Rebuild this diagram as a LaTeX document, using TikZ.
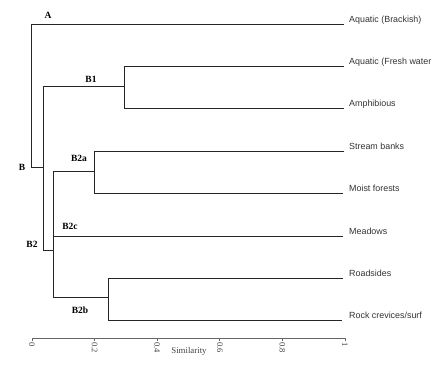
\documentclass[tikz,border=0pt]{standalone}
\usepackage{fontspec}
\setmainfont{Liberation Serif}
\newfontfamily\leaffont{Liberation Sans}
\begin{document}
\begin{tikzpicture}[x=1pt,y=-1pt,
  branch/.style={draw=black!85, line width=0.9pt},
  leaflbl/.style={anchor=base west, inner sep=0pt, font=\leaffont\fontsize{8.9}{10}\selectfont, text=black!80},
  clustlbl/.style={inner sep=0pt, font=\bfseries\fontsize{9.5}{11}\selectfont},
  ticklbl/.style={rotate=-90, anchor=west, inner sep=0pt, font=\fontsize{8.5}{10}\selectfont, text=black!75},
  axisline/.style={draw=black!60, line width=0.7pt}]
\useasboundingbox (0,0) rectangle (442,368);
% leaf ends
\coordinate (e1) at (344,24);
\coordinate (e2) at (344,66);
\coordinate (e3) at (344,108);
\coordinate (e4) at (344,151);
\coordinate (e5) at (343,193);
\coordinate (e6) at (343,236);
\coordinate (e7) at (343,278);
\coordinate (e8) at (342,320);
% leaf labels
\node[leaflbl] (l1) at (349,22) {Aquatic (Brackish)};
\node[leaflbl] (l2) at (349,64) {Aquatic (Fresh water};
\node[leaflbl] (l3) at (349,106) {Amphibious};
\node[leaflbl] (l4) at (349,149) {Stream banks};
\node[leaflbl] (l5) at (349,191) {Moist forests};
\node[leaflbl] (l6) at (349,234) {Meadows};
\node[leaflbl] (l7) at (349,276) {Roadsides};
\node[leaflbl] (l8) at (349,318) {Rock crevices/surf};
% junctions
\coordinate (root) at (31,167);
\coordinate (Bn) at (43,167);
\coordinate (B1n) at (124,86);
\coordinate (B2n) at (53,250);
\coordinate (B2an) at (94,171);
\coordinate (B2bn) at (108,297);
% root: A and B
\draw[branch] (e1) -- (e1 -| root) -- (root) -- (Bn);
% B: B1 and B2
\draw[branch] (B1n) -- (B1n -| Bn) -- (B2n -| Bn) -- (B2n);
% B1
\draw[branch] (e2) -- (e2 -| B1n) -- (e3 -| B1n) -- (e3);
% B2
\draw[branch] (B2an) -- (B2an -| B2n) -- (B2bn -| B2n) -- (B2bn);
\draw[branch] (e6) -- (e6 -| B2n);
% B2a
\draw[branch] (e4) -- (e4 -| B2an) -- (e5 -| B2an) -- (e5);
% B2b
\draw[branch] (e7) -- (e7 -| B2bn) -- (e8 -| B2bn) -- (e8);
% cluster labels
\node[clustlbl] (A) at (48,15) {A};
\node[clustlbl] (B) at (22,167) {B};
\node[clustlbl] (B1) at (91,79) {B1};
\node[clustlbl] (B2a) at (79,158) {B2a};
\node[clustlbl] (B2c) at (70,226) {B2c};
\node[clustlbl] (B2) at (32,244) {B2};
\node[clustlbl] (B2b) at (80,310) {B2b};
% axis
\coordinate (ax0) at (32,338);
\coordinate (ax1) at (345,338);
\draw[axisline] (ax0) -- (ax1);
\foreach \v/\t [count=\i] in {0/0,0.2/0.2,0.4/0.4,0.6/0.6,0.8/0.8,1/1}{
  \coordinate (tk\i) at ({32+313*\v},338);
  \draw[axisline] (tk\i) -- ++(0,3);
  \node[ticklbl] (tl\i) at ({32+313*\v},342) {\t};
}
\node[inner sep=0pt, font=\fontsize{8.8}{10}\selectfont, text=black!75] (sim) at (189,351) {Similarity};
\end{tikzpicture}
\end{document}
